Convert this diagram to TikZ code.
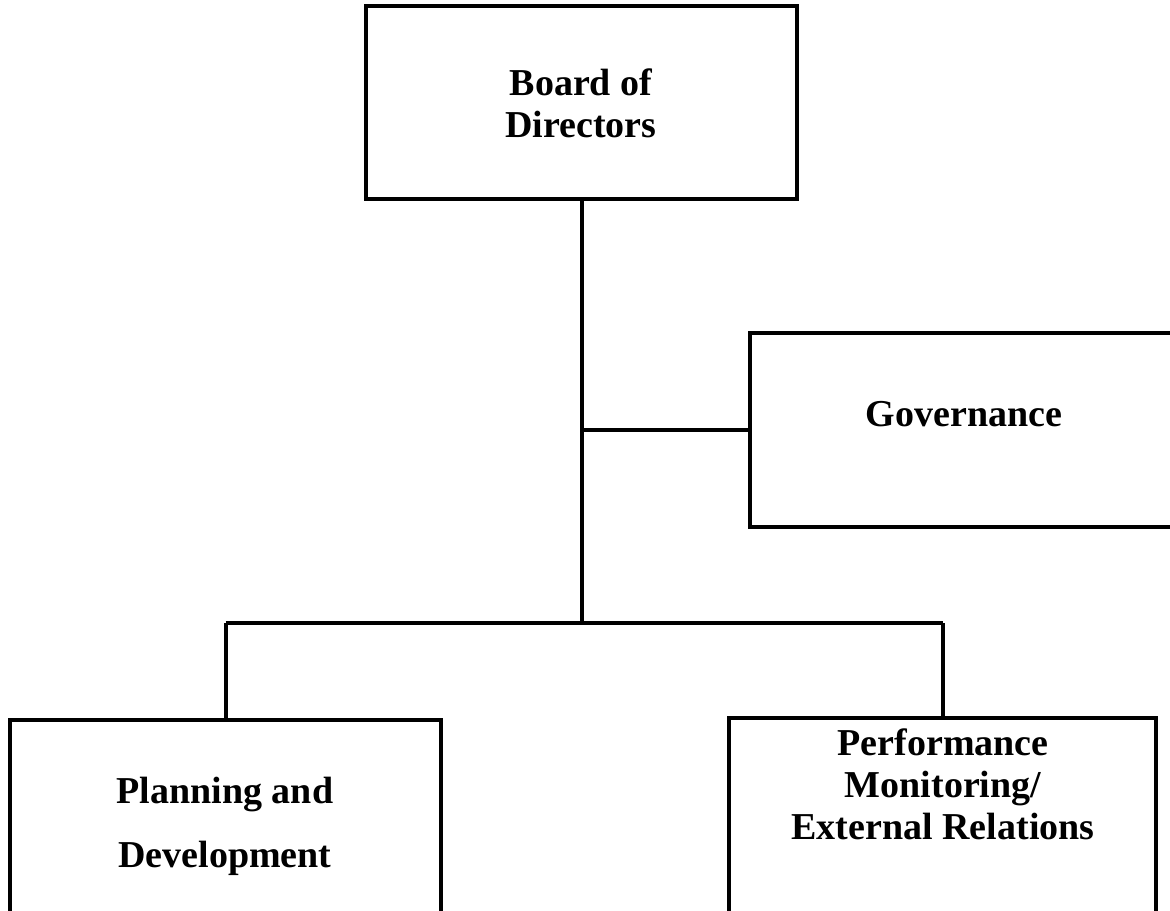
\documentclass[tikz,border=0pt]{standalone}
\usepackage{fontspec}
\setmainfont{Liberation Serif}
\begin{document}
\begin{tikzpicture}[x=0.5pt,y=-0.5pt,
  box/.style={draw=black,line width=2pt,rectangle,inner sep=0pt},
  lbl/.style={inner sep=0pt,align=center,font=\bfseries\fontsize{19}{21}\selectfont},
  conn/.style={draw=black,line width=2pt}]
\useasboundingbox (0,0) rectangle (1170,910);
\clip (0,0) rectangle (1170,910);
% boxes
\node[box,minimum width=431*0.5pt,minimum height=193*0.5pt] (board) at (581.5,102) {};
\node[box,minimum width=422*0.5pt,minimum height=194*0.5pt] (gov) at (961,430) {};
\node[box,minimum width=431*0.5pt,minimum height=195*0.5pt] (plan) at (225.5,817.5) {};
\node[box,minimum width=427*0.5pt,minimum height=197*0.5pt] (perf) at (942.5,816.5) {};
% labels
\node[lbl] (tboard) at (581,103) {Board of\\Directors};
\node[lbl] (tgov) at (964,414) {Governance};
\node[lbl,font=\bfseries\fontsize{19}{32}\selectfont] (tplan) at (225,826) {Planning and\\Development};
\node[lbl] (tperf) at (943,784) {Performance\\Monitoring/\\External Relations};
% connectors
\coordinate (jg) at (board.south |- gov.west);
\coordinate (jb) at (board.south |- 0,623);
\coordinate (jl) at (plan.north |- jb);
\coordinate (jr) at (perf.north |- jb);
\draw[conn] (board.south) -- (jb);
\draw[conn] (jg) -- (gov.west);
\draw[conn] (jl) -- (jr);
\draw[conn] (jl) -- (plan.north);
\draw[conn] (jr) -- (perf.north);
\end{tikzpicture}
\end{document}
